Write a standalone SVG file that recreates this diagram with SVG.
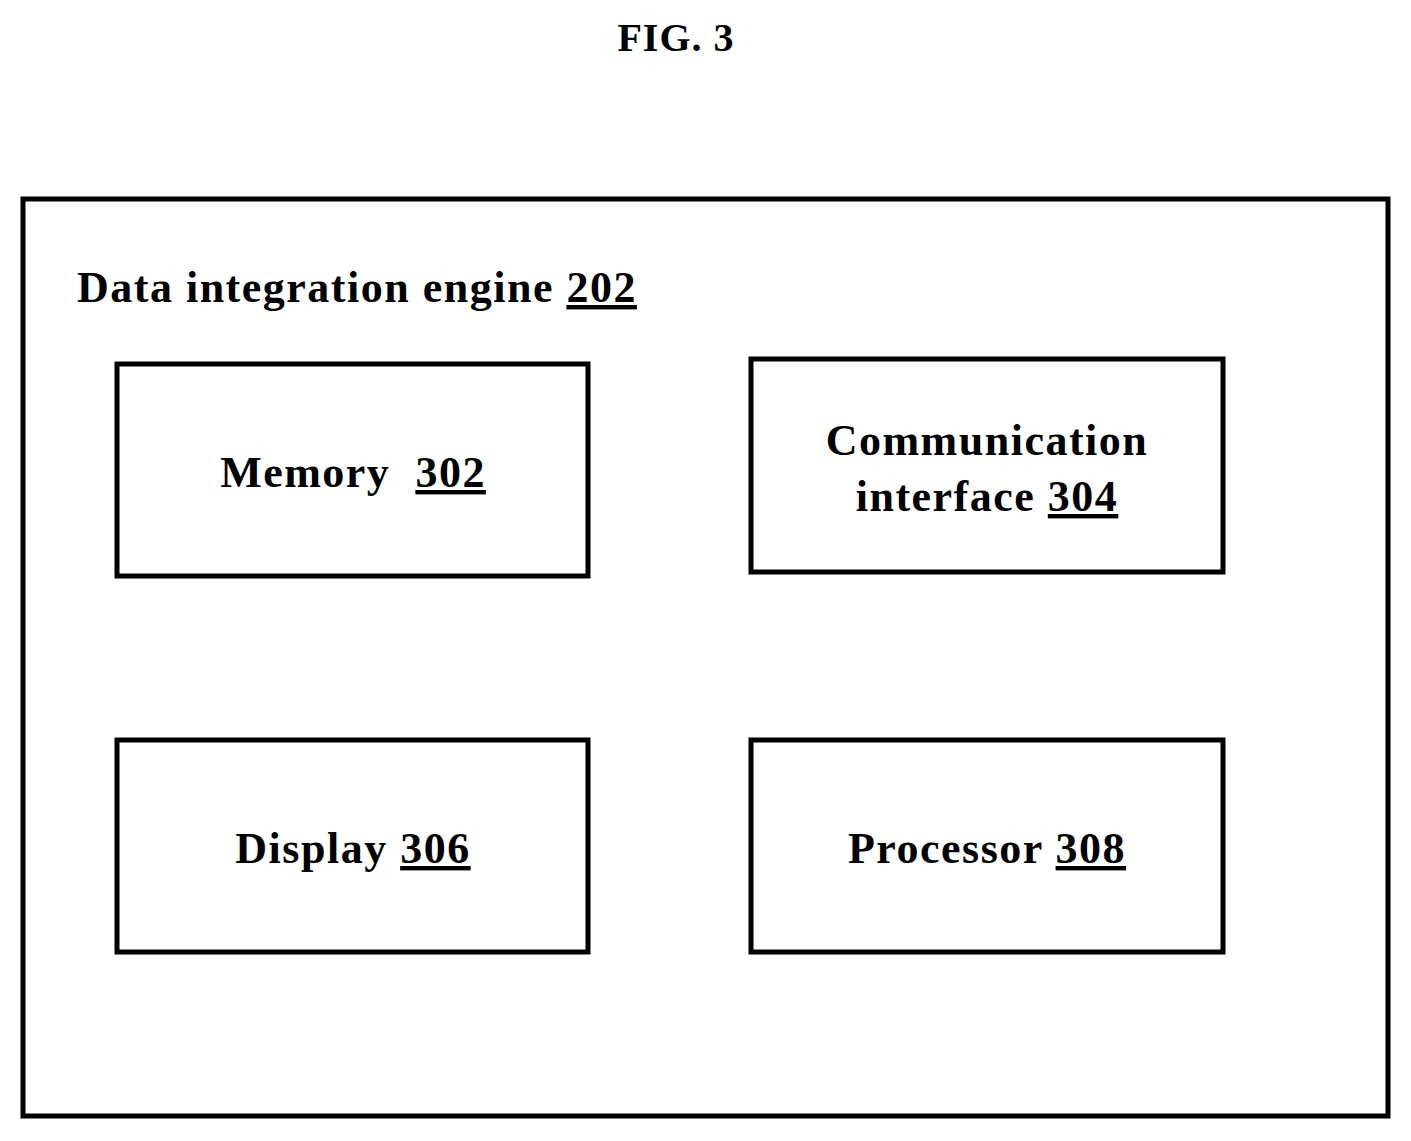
<svg xmlns="http://www.w3.org/2000/svg" width="1411" height="1141" viewBox="0 0 1411 1141">
<style>
.b{fill:none;stroke:#000;stroke-width:5}
.t{font-family:"Liberation Serif",serif;font-weight:bold;font-size:44px;letter-spacing:1.5px;fill:#000;white-space:pre}
.m{text-anchor:middle}
.u{text-decoration:underline}
</style>
<rect width="1411" height="1141" fill="#fff"/>
<text class="t m" x="676" y="51" style="font-size:40px;letter-spacing:1px">FIG. 3</text>
<g id="engine"><rect class="b" x="23" y="199" width="1365" height="917"/>
<text class="t" x="77" y="302">Data integration engine <tspan class="u">202</tspan></text></g>
<g id="memory"><rect class="b" x="117" y="364" width="471" height="212"/>
<text class="t m" x="353" y="487" xml:space="preserve">Memory  <tspan class="u">302</tspan></text></g>
<g id="comm"><rect class="b" x="751" y="359" width="472" height="213"/>
<text class="t m" x="987" y="455">Communication</text>
<text class="t m" x="987" y="511">interface <tspan class="u">304</tspan></text></g>
<g id="display"><rect class="b" x="117" y="740" width="471" height="212"/>
<text class="t m" x="353" y="863">Display <tspan class="u">306</tspan></text></g>
<g id="processor"><rect class="b" x="751" y="740" width="472" height="212"/>
<text class="t m" x="987" y="863">Processor <tspan class="u">308</tspan></text></g>
<g id="connectors"/>
</svg>
